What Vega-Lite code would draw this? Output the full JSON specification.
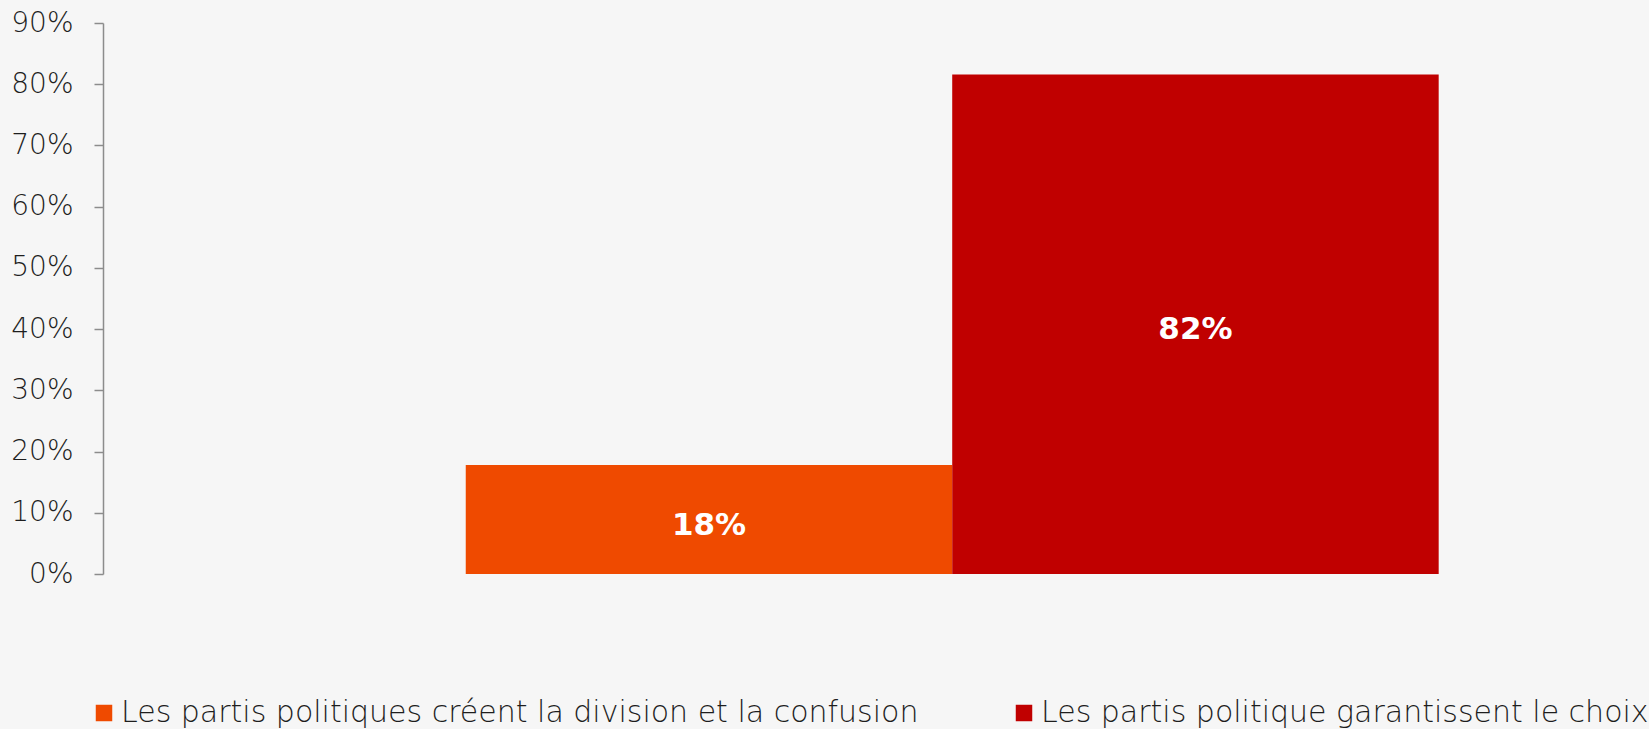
{
  "$schema": "https://vega.github.io/schema/vega-lite/v6.json",
  "autosize": {"type": "none"},
  "width": 1546,
  "height": 551,
  "padding": {"left": 103, "top": 23, "right": 0, "bottom": 155},
  "background": "#f6f6f6",
  "config": {"view": {"stroke": null}, "font": "DejaVu Sans"},
  "data": {"values": [
    {"serie": "Les partis politiques créent la division et la confusion", "valeur": 0.178, "etiquette": "18%"},
    {"serie": "Les partis politique garantissent le choix", "valeur": 0.816, "etiquette": "82%"}
  ]},
  "transform": [{"calculate": "datum.valeur / 2", "as": "milieu"}],
  "encoding": {
    "x": {"field": "serie", "type": "nominal", "sort": null,
      "scale": {"paddingInner": 0, "paddingOuter": 0.589, "align": 0.633},
      "axis": null}
  },
  "layer": [
    {
      "mark": {"type": "bar"},
      "encoding": {
        "y": {"field": "valeur", "type": "quantitative",
          "scale": {"domain": [0, 0.9], "nice": false},
          "axis": {"values": [0, 0.1, 0.2, 0.3, 0.4, 0.5, 0.6, 0.7, 0.8, 0.9], "format": ".0%", "title": null,
            "grid": false, "domainColor": "#8c8c8c", "domainWidth": 1.5, "tickColor": "#8c8c8c", "tickWidth": 1.5, "tickSize": 9,
            "labelFont": "DejaVu Sans", "labelFontWeight": 200, "labelFontSize": 28, "labelColor": "#1e1e1e", "labelPadding": 21}},
        "color": {"field": "serie", "type": "nominal",
          "scale": {"domain": ["Les partis politiques créent la division et la confusion", "Les partis politique garantissent le choix"], "range": ["#ef4a00", "#c00000"]},
          "legend": {"title": null, "orient": "none", "direction": "horizontal", "legendX": -14, "legendY": 675,
            "symbolType": "square", "symbolSize": 272, "symbolStrokeWidth": 0, "symbolOpacity": 1,
            "labelFont": "DejaVu Sans", "labelFontWeight": 200, "labelFontSize": 30, "labelColor": "#1e1e1e", "labelLimit": 1000, "labelOffset": 2,
            "columnPadding": 90, "padding": 0}}
      }
    },
    {
      "mark": {"type": "text", "color": "white", "fontWeight": "bold", "fontSize": 31, "font": "DejaVu Sans", "baseline": "middle", "dy": 6},
      "encoding": {
        "y": {"field": "milieu", "type": "quantitative"},
        "text": {"field": "etiquette", "type": "nominal"}
      }
    }
  ]
}
